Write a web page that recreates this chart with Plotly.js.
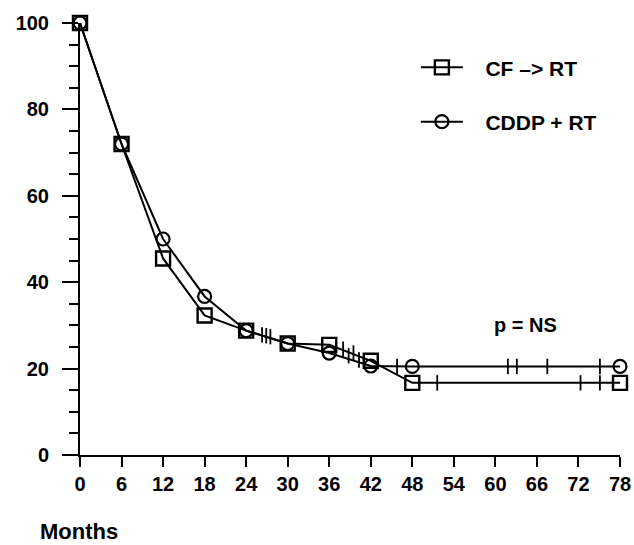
<!DOCTYPE html>
<html><head><meta charset="utf-8">
<script src="https://cdn.plot.ly/plotly-3.0.1.min.js"></script>
<style>html,body{margin:0;padding:0;background:#fff}#chart{width:634px;height:545px}</style>
</head><body><div id="chart"></div>
<script>
var months = [0, 6, 12, 18, 24, 30, 36, 42, 48, 78];
var cfRt = [100, 72, 45.5, 32.3, 28.8, 25.8, 25.5, 21.8, 16.7, 16.7];
var cddpRt = [100, 72, 50, 36.7, 28.8, 25.8, 23.6, 20.6, 20.5, 20.5];
var cfCensorMonths = [26.3, 26.9, 27.5, 38.0, 39.5, 51.6, 72.3, 75.1];
var cfCensorValues = [27.8, 27.6, 27.4, 24.5, 23.6, 16.7, 16.7, 16.7];
var cddpCensorMonths = [38.8, 40.3, 45.8, 61.8, 63.1, 67.5, 75.1];
var cddpCensorValues = [23.0, 22.0, 20.5, 20.5, 20.5, 20.5, 20.5];
var xTicks = [0, 6, 12, 18, 24, 30, 36, 42, 48, 54, 60, 66, 72, 78];
var seriesNames = ['CF \u2013> RT', 'CDDP + RT'];

var F = 'Liberation Sans, Arial, Helvetica, sans-serif';
var pad = '\u00a0\u00a0\u00a0';
var traces = [
  {x: months, y: cfRt, name: pad + seriesNames[0], mode: 'lines+markers', legendgroup: 'a',
   line: {color: '#000', width: 2},
   marker: {symbol: 'square-open', size: 14, color: '#000', line: {width: 2.4, color: '#000'}},
   cliponaxis: false},
  {x: months, y: cddpRt, name: pad + seriesNames[1], mode: 'lines+markers', legendgroup: 'b',
   line: {color: '#000', width: 2},
   marker: {symbol: 'circle-open', size: 13, color: '#000', line: {width: 2.2, color: '#000'}},
   cliponaxis: false},
  {x: cfCensorMonths, y: cfCensorValues, mode: 'markers', showlegend: false,
   marker: {symbol: 'line-ns', size: 11, line: {width: 1.8, color: '#000'}}},
  {x: cddpCensorMonths, y: cddpCensorValues, mode: 'markers', showlegend: false,
   marker: {symbol: 'line-ns', size: 11, line: {width: 1.8, color: '#000'}}}
];
var layout = {
  width: 634, height: 545,
  margin: {l: 80, r: 14, t: 23, b: 90},
  paper_bgcolor: '#fff', plot_bgcolor: '#fff',
  showlegend: true,
  legend: {x: 0.622, y: 0.944, xanchor: 'left', yanchor: 'top', traceorder: 'grouped',
    itemwidth: 42,
    tracegroupgap: 24, font: {family: F, size: 21, weight: 'bold', color: '#000'},
    bgcolor: 'rgba(0,0,0,0)'},
  xaxis: {range: [0, 78], tickvals: xTicks, ticktext: xTicks.map(String),
    showgrid: false, zeroline: false, showline: true, linecolor: '#000', linewidth: 2,
    ticks: 'outside', ticklen: 10, tickwidth: 2, tickcolor: '#000',
    tickfont: {family: F, size: 20, weight: 'bold', color: '#000'}},
  yaxis: {range: [0, 100], tickvals: [0, 20, 40, 60, 80, 100],
    showgrid: false, zeroline: false, showline: true, linecolor: '#000', linewidth: 2,
    ticks: 'outside', ticklen: 16, tickwidth: 2, tickcolor: '#000',
    ticklabelstandoff: 9,
    minor: {dtick: 5, ticks: 'outside', ticklen: 9, tickwidth: 2, tickcolor: '#000'},
    tickfont: {family: F, size: 20, weight: 'bold', color: '#000'}},
  annotations: [
    {text: 'p = NS', x: 64.3, y: 30, xref: 'x', yref: 'y', showarrow: false,
     font: {family: F, size: 20, weight: 'bold', color: '#000'}},
    {text: 'Months', x: (38 - 80) / 540, y: (455 - 531) / 432, xref: 'paper', yref: 'paper',
     showarrow: false, xanchor: 'left', yanchor: 'middle',
     font: {family: F, size: 22, weight: 'bold', color: '#000'}}
  ]
};
Plotly.newPlot('chart', traces, layout, {displayModeBar: false, staticPlot: true});
</script></body></html>
